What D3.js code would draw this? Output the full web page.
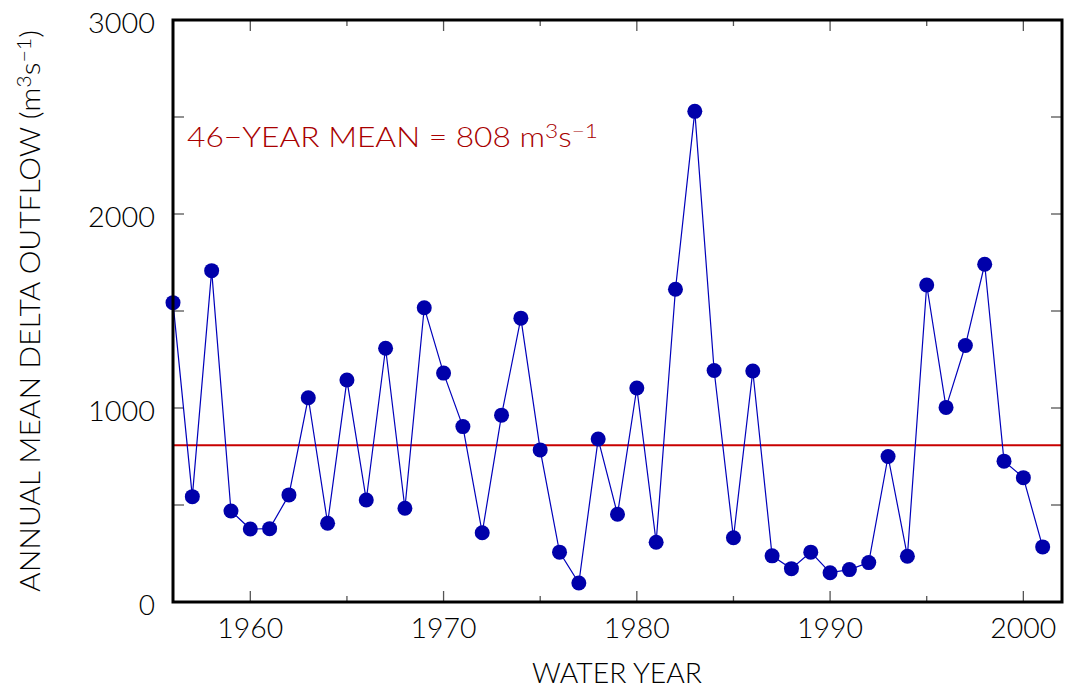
<!DOCTYPE html>
<html><head><meta charset="utf-8">
<script src="https://cdn.jsdelivr.net/npm/d3@7"></script>
<style>
body{margin:0;background:#fff;}
svg{display:block;}
text{font-family:Lato, 'Open Sans', sans-serif;font-weight:300;}
</style></head>
<body><svg id="chart" width="1070" height="690"></svg>
<script>
const years = [1956,1957,1958,1959,1960,1961,1962,1963,1964,1965,1966,1967,1968,1969,1970,1971,1972,1973,1974,1975,1976,1977,1978,1979,1980,1981,1982,1983,1984,1985,1986,1987,1988,1989,1990,1991,1992,1993,1994,1995,1996,1997,1998,1999,2000,2001];
const outflow = [1543,543,1708,469,376,378,552,1053,406,1144,526,1308,483,1517,1180,904,357,963,1463,784,257,98,840,452,1103,308,1612,2529,1193,331,1191,238,172,257,151,167,203,750,236,1634,1003,1322,1741,726,641,284];
const meanValue = 808;
const xTicks = [1960,1970,1980,1990,2000];
const xMinorTicks = [1965,1975,1985,1995];
const yTicks = [0,1000,2000,3000];
const yMinorTicks = [500,1500,2500];

const svg = d3.select('#chart');
const L=173, R=1062, T=20, B=602;
const x = d3.scaleLinear().domain([1956,2002]).range([L,R]);
const y = d3.scaleLinear().domain([0,3000]).range([B,T]);

const tickCol = '#555';
const g = svg.append('g');
function tick(x1,y1,x2,y2){g.append('line').attr('x1',x1).attr('y1',y1).attr('x2',x2).attr('y2',y2).attr('stroke',tickCol).attr('stroke-width',1.3);}
xTicks.forEach(v=>{ tick(x(v),B,x(v),B-11); tick(x(v),T,x(v),T+11); });
xMinorTicks.forEach(v=>{ tick(x(v),B,x(v),B-6); tick(x(v),T,x(v),T+6); });
yTicks.concat(yMinorTicks).forEach(v=>{ tick(L,y(v),L+11,y(v)); tick(R,y(v),R-11,y(v)); });

const FS = 28;
yTicks.forEach(v=>{
  svg.append('text').attr('x',L-18).attr('y',y(v)+13).attr('text-anchor','end')
    .attr('font-size',FS).attr('fill','#000')
    .attr('textLength',v===0?null:67).attr('lengthAdjust','spacingAndGlyphs').text(v);
});
xTicks.forEach(v=>{
  svg.append('text').attr('x',x(v)-33).attr('y',638)
    .attr('font-size',FS).attr('fill','#000')
    .attr('textLength',66).attr('lengthAdjust','spacingAndGlyphs').text(v);
});
svg.append('text').attr('x',532).attr('y',683)
  .attr('font-size',FS).attr('fill','#000')
  .attr('textLength',170).attr('lengthAdjust','spacingAndGlyphs').text('WATER YEAR');

const yt = svg.append('text').attr('transform',`translate(40,592) rotate(-90)`)
  .attr('font-size',FS).attr('fill','#000')
  .attr('textLength',562).attr('lengthAdjust','spacingAndGlyphs');
yt.append('tspan').text('ANNUAL MEAN DELTA OUTFLOW (m');
yt.append('tspan').attr('dy',-9).attr('font-size',20).text('3');
yt.append('tspan').attr('dy',9).text('s');
yt.append('tspan').attr('dy',-9).attr('font-size',20).text('\u22121');
yt.append('tspan').attr('dy',9).text(')');

svg.append('line').attr('x1',L).attr('x2',R).attr('y1',y(meanValue)).attr('y2',y(meanValue)).attr('stroke','#c80000').attr('stroke-width',2);
const mt = svg.append('text').attr('x',187).attr('y',146.5).attr('font-size',FS).attr('fill','#a80000')
  .attr('textLength',411).attr('lengthAdjust','spacingAndGlyphs');
mt.append('tspan').text('46\u2212YEAR MEAN = '+meanValue+' m');
mt.append('tspan').attr('dy',-9).attr('font-size',20).text('3');
mt.append('tspan').attr('dy',9).text('s');
mt.append('tspan').attr('dy',-9).attr('font-size',20).text('\u22121');

const line = d3.line().x((d,i)=>x(years[i])).y(d=>y(d));
svg.append('path').datum(outflow).attr('d',line).attr('fill','none').attr('stroke','#0000bb').attr('stroke-width',1.2);
svg.selectAll('circle.pt').data(outflow).enter().append('circle').attr('class','pt')
  .attr('cx',(d,i)=>x(years[i])).attr('cy',d=>y(d)).attr('r',7.5).attr('fill','#0000aa');

svg.append('rect').attr('x',L).attr('y',T).attr('width',R-L).attr('height',B-T).attr('fill','none').attr('stroke','#000').attr('stroke-width',3);
</script></body></html>
